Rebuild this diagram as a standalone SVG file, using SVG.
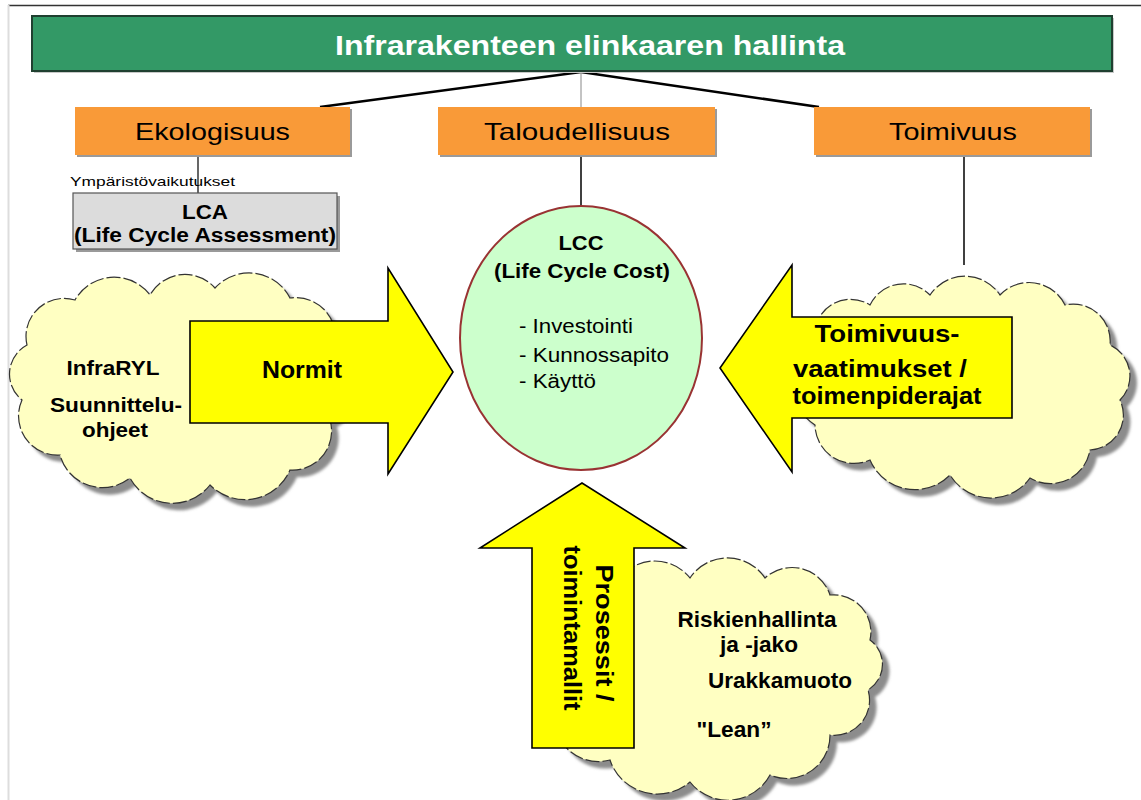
<svg xmlns="http://www.w3.org/2000/svg" width="1141" height="800" viewBox="0 0 1141 800">
<style>
text{font-family:"Liberation Sans",Arial,sans-serif;fill:#000}
.b{font-weight:bold}
.box{fill:#F99A38}
.boxsh{fill:#9a9a9a}
.lbl{font-size:24px}
.cloud{fill:#FFFFC2;stroke:#333;stroke-width:1.2;stroke-dasharray:14 3}
.csh{fill:#8c8c8c}
.arrow{fill:#FFFF00;stroke:#000;stroke-width:1.6;stroke-linejoin:miter}
.at{font-size:23px;font-weight:bold}
.ct{font-size:21px;font-weight:bold}
.conn{stroke:#000;fill:none}
</style>
<defs>
<filter id="blur" x="-5%" y="-5%" width="110%" height="110%"><feGaussianBlur stdDeviation="1.5"/></filter>
<path id="cloudL" d="M 27 345 A 38 38 0 0 1 75 300 A 45 45 0 0 1 150 295 A 40 40 0 0 1 215 288 A 46 46 0 0 1 290 298 A 40 40 0 0 1 335 345 A 45 45 0 0 1 330 420 A 39 39 0 0 1 290 470 A 49 49 0 0 1 210 485 A 48 48 0 0 1 130 478 A 44 44 0 0 1 60 455 A 39 39 0 0 1 22 400 A 33 33 0 0 1 27 345 Z"/>
<path id="cloudR" d="M 815 330 A 36 36 0 0 1 870 305 A 37 37 0 0 1 930 295 A 42 42 0 0 1 1000 295 A 40 40 0 0 1 1065 305 A 37 37 0 0 1 1110 345 A 34 34 0 0 1 1120 400 A 35 35 0 0 1 1090 450 A 40 40 0 0 1 1030 478 A 48 48 0 0 1 950 475 A 49 49 0 0 1 870 460 A 39 39 0 0 1 815 425 A 57 57 0 0 1 815 330 Z"/>
<path id="cloudB" d="M 560 610 A 36 36 0 0 1 615 585 A 45 45 0 0 1 690 578 A 45 45 0 0 1 765 578 A 40 40 0 0 1 830 595 A 37 37 0 0 1 870 640 A 30 30 0 0 1 868 690 A 35 35 0 0 1 830 735 A 43 43 0 0 1 770 775 A 48 48 0 0 1 690 782 A 50 50 0 0 1 610 760 A 44 44 0 0 1 555 710 A 31 31 0 0 1 540 660 A 33 33 0 0 1 560 610 Z"/>
</defs>
<rect width="1141" height="800" fill="#fff"/>
<line x1="8" y1="5.5" x2="1141" y2="5.5" stroke="#333" stroke-width="1.5"/>
<line x1="8.5" y1="5" x2="8.5" y2="800" stroke="#ddd" stroke-width="2"/>

<g id="connectors">
<line class="conn" x1="581" y1="72" x2="320" y2="107" stroke-width="2.5"/>
<line class="conn" x1="581" y1="72" x2="819" y2="107" stroke-width="2.5"/>
<line x1="581" y1="72" x2="581" y2="107" stroke="#888" stroke-width="1"/>
<line class="conn" x1="198" y1="155" x2="198" y2="193" stroke-width="1.2"/>
<line class="conn" x1="581" y1="155" x2="581" y2="207" stroke-width="1.5"/>
<line class="conn" x1="964" y1="155" x2="964" y2="265" stroke-width="1.5"/>
</g>

<g id="title">
<rect x="34" y="18" width="1080" height="55" fill="#c8c8c8"/>
<rect x="32" y="16" width="1080" height="55" fill="#339966" stroke="#1f4030" stroke-width="2"/>
<text x="590" y="55" class="b" font-size="28" fill="#fff" style="fill:#fff" text-anchor="middle" textLength="510" lengthAdjust="spacingAndGlyphs">Infrarakenteen elinkaaren hallinta</text>
</g>

<g id="ekologisuus">
<rect class="boxsh" x="77" y="109" width="275" height="48"/>
<rect class="box" x="75" y="107" width="275" height="48"/>
<text class="lbl" x="212.5" y="140" text-anchor="middle" textLength="155" lengthAdjust="spacingAndGlyphs">Ekologisuus</text>
</g>
<g id="taloudellisuus">
<rect class="boxsh" x="440" y="109" width="277" height="48"/>
<rect class="box" x="438" y="107" width="277" height="48"/>
<text class="lbl" x="577" y="140" text-anchor="middle" textLength="186" lengthAdjust="spacingAndGlyphs">Taloudellisuus</text>
</g>
<g id="toimivuus">
<rect class="boxsh" x="816" y="109" width="276" height="48"/>
<rect class="box" x="814" y="107" width="276" height="48"/>
<text class="lbl" x="953" y="140" text-anchor="middle" textLength="128" lengthAdjust="spacingAndGlyphs">Toimivuus</text>
</g>

<g id="ymparisto">
<text x="70" y="186" font-size="13" textLength="165" lengthAdjust="spacingAndGlyphs">Ympäristövaikutukset</text>
</g>

<g id="lca">
<rect x="76" y="196" width="264" height="56" fill="#9a9a9a"/>
<rect x="73" y="193" width="264" height="56" fill="#DCDCDC" stroke="#555" stroke-width="1.2"/>
<text class="b" x="205" y="219" font-size="20" text-anchor="middle" textLength="46" lengthAdjust="spacingAndGlyphs">LCA</text>
<text class="b" x="205" y="242" font-size="20" text-anchor="middle" textLength="262" lengthAdjust="spacingAndGlyphs">(Life Cycle Assessment)</text>
</g>

<g id="lcc">
<ellipse cx="581" cy="338" rx="121" ry="132" fill="#CCFFCC" stroke="#993333" stroke-width="2"/>
<text class="ct" x="581" y="250" text-anchor="middle" textLength="45" lengthAdjust="spacingAndGlyphs">LCC</text>
<text class="ct" x="582" y="278" text-anchor="middle" textLength="176" lengthAdjust="spacingAndGlyphs">(Life Cycle Cost)</text>
<text x="519" y="333" font-size="20" textLength="114" lengthAdjust="spacingAndGlyphs">- Investointi</text>
<text x="519" y="362" font-size="20" textLength="150" lengthAdjust="spacingAndGlyphs">- Kunnossapito</text>
<text x="519" y="388" font-size="20" textLength="77" lengthAdjust="spacingAndGlyphs">- Käyttö</text>
</g>

<g id="cloud-left">
<use href="#cloudL" class="csh" transform="translate(7,7)" filter="url(#blur)"/>
<use href="#cloudL" class="cloud"/>
<text class="b" x="113" y="375" font-size="21" text-anchor="middle" textLength="93" lengthAdjust="spacingAndGlyphs">InfraRYL</text>
<text class="b" x="116" y="412" font-size="21" text-anchor="middle" textLength="132" lengthAdjust="spacingAndGlyphs">Suunnittelu-</text>
<text class="b" x="115" y="437" font-size="21" text-anchor="middle" textLength="66" lengthAdjust="spacingAndGlyphs">ohjeet</text>
</g>

<g id="cloud-right">
<use href="#cloudR" class="csh" transform="translate(7,7)" filter="url(#blur)"/>
<use href="#cloudR" class="cloud"/>
</g>

<g id="cloud-bottom">
<use href="#cloudB" class="csh" transform="translate(7,7)" filter="url(#blur)"/>
<use href="#cloudB" class="cloud"/>
<text class="b" x="757" y="627" font-size="22" text-anchor="middle" textLength="159" lengthAdjust="spacingAndGlyphs">Riskienhallinta</text>
<text class="b" x="759" y="652" font-size="22" text-anchor="middle" textLength="78" lengthAdjust="spacingAndGlyphs">ja -jako</text>
<text class="b" x="780" y="688" font-size="22" text-anchor="middle" textLength="144" lengthAdjust="spacingAndGlyphs">Urakkamuoto</text>
<text class="b" x="734" y="737" font-size="22" text-anchor="middle" textLength="75" lengthAdjust="spacingAndGlyphs">"Lean”</text>
</g>

<g id="arrow-normit">
<polygon class="arrow" points="190,321 388,321 388,268 453,372 388,474 388,423 190,423"/>
<text class="at" x="302" y="378" text-anchor="middle" textLength="80" lengthAdjust="spacingAndGlyphs">Normit</text>
</g>

<g id="arrow-toimivuus">
<polygon class="arrow" points="1012,317 792,317 792,265 720,368 792,472 792,418 1012,418"/>
<text class="at" x="887" y="342" text-anchor="middle" textLength="145" lengthAdjust="spacingAndGlyphs">Toimivuus-</text>
<text class="at" x="880" y="377" text-anchor="middle" textLength="174" lengthAdjust="spacingAndGlyphs">vaatimukset /</text>
<text class="at" x="887" y="404" text-anchor="middle" textLength="189" lengthAdjust="spacingAndGlyphs">toimenpiderajat</text>
</g>

<g id="arrow-prosessit">
<polygon class="arrow" points="532,748 532,548 480,548 582,483 685,548 634,548 634,748"/>
<text class="at" transform="translate(596,633) rotate(90)" x="0" y="0" text-anchor="middle" textLength="137" lengthAdjust="spacingAndGlyphs">Prosessit /</text>
<text class="at" transform="translate(564,628) rotate(90)" x="0" y="0" text-anchor="middle" textLength="165" lengthAdjust="spacingAndGlyphs">toimintamallit</text>
</g>
</svg>
